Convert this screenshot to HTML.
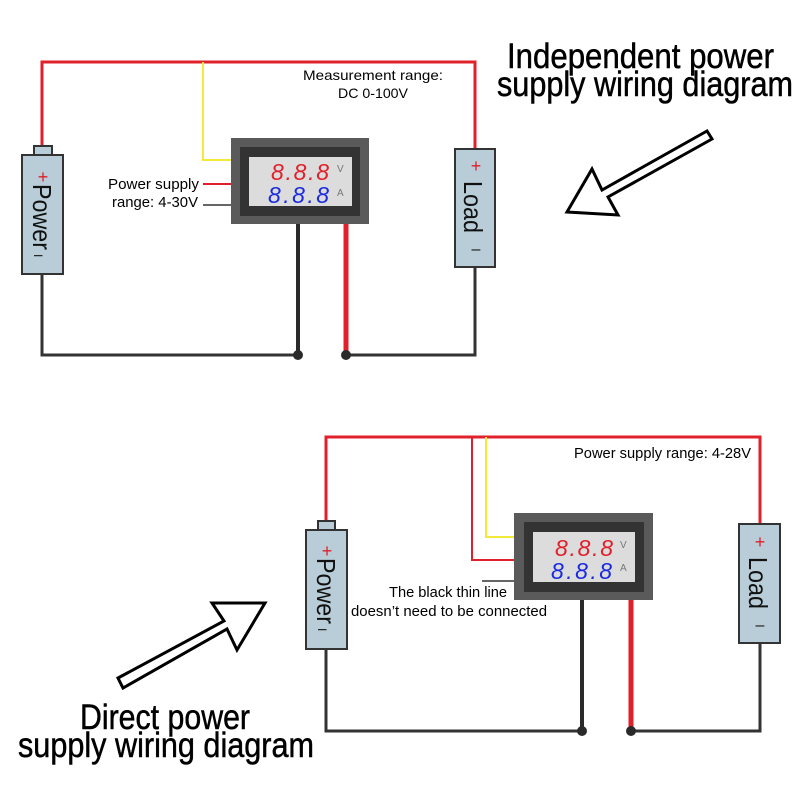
<!DOCTYPE html>
<html><head><meta charset="utf-8"><style>html,body{margin:0;padding:0;background:#fff}svg{display:block}</style></head>
<body>
<svg width="800" height="800" viewBox="0 0 800 800" xmlns="http://www.w3.org/2000/svg" font-family="Liberation Sans, sans-serif">
<g fill="none" stroke-linejoin="miter">
<polyline points="42,155 42,62 475,62 475,149" stroke="#e0202a" stroke-width="3"/>
<polyline points="203,62 203,160 231,160" stroke="#f2ea3a" stroke-width="2"/>
<line x1="203" y1="184" x2="231" y2="184" stroke="#e0202a" stroke-width="2"/>
<line x1="203" y1="205" x2="231" y2="205" stroke="#333" stroke-width="1.5"/>
<polyline points="42,274 42,355 298,355 298,224" stroke="#333" stroke-width="3"/>
<line x1="298" y1="224" x2="298" y2="355" stroke="#2a2a2a" stroke-width="4"/>
<line x1="346" y1="224" x2="346" y2="355" stroke="#e0202a" stroke-width="5"/>
<polyline points="346,355 475,355 475,267" stroke="#333" stroke-width="3"/>
</g>
<circle cx="298" cy="355" r="5" fill="#2a2a2a"/>
<circle cx="346" cy="355" r="5" fill="#2a2a2a"/>
<rect x="34" y="146" width="18" height="10" fill="#b8cdd8" stroke="#333" stroke-width="2"/>
<rect x="22" y="155" width="41" height="119" fill="#b8cdd8" stroke="#333" stroke-width="2"/>
<text x="43" y="183" fill="#e0202a" font-size="18" text-anchor="middle">+</text>
<text transform="translate(33,184) rotate(90)" font-size="26" fill="#111" textLength="66" lengthAdjust="spacingAndGlyphs">Power</text>
<text transform="translate(34,254) rotate(90)" font-size="12" fill="#111">I</text>
<rect x="455" y="149" width="40" height="118" fill="#b8cdd8" stroke="#333" stroke-width="2"/>
<text x="476" y="172" fill="#e0202a" font-size="18" text-anchor="middle">+</text>
<text transform="translate(464,181) rotate(90)" font-size="26" fill="#111" textLength="52" lengthAdjust="spacingAndGlyphs">Load</text>
<text x="476" y="254" font-size="16" text-anchor="middle" fill="#111">–</text>
<rect x="231" y="138" width="138" height="86" fill="#5a5a5a"/>
<rect x="240" y="147" width="120" height="69" fill="#333"/>
<rect x="249" y="157" width="103" height="49" fill="#dcdcdc"/>
<text x="271" y="180" font-size="23" font-style="italic" fill="#e0202a" textLength="58" lengthAdjust="spacing">8.8.8</text>
<text x="268" y="203" font-size="23" font-style="italic" fill="#1a2ae0" textLength="61" lengthAdjust="spacing">8.8.8</text>
<text x="337" y="172" font-size="10" fill="#777">V</text>
<text x="337" y="196" font-size="10" fill="#777">A</text>
<text x="373" y="80" font-size="14" text-anchor="middle" textLength="140" lengthAdjust="spacingAndGlyphs">Measurement range:</text>
<text x="373" y="98" font-size="14" text-anchor="middle" textLength="70" lengthAdjust="spacingAndGlyphs">DC 0-100V</text>
<text x="199" y="189" font-size="15" text-anchor="end" textLength="91" lengthAdjust="spacingAndGlyphs">Power supply</text>
<text x="198" y="207" font-size="15" text-anchor="end" textLength="86" lengthAdjust="spacingAndGlyphs">range: 4-30V</text>
<polygon points="707,131 602,190 592,169 567,212 618,215 608,197 712,139" fill="#fff" stroke="#000" stroke-width="3"/>
<g stroke="#000" stroke-width="0.5">
<text x="507" y="68" font-size="35" textLength="267" lengthAdjust="spacingAndGlyphs">Independent power</text>
<text x="497" y="96" font-size="35" textLength="296" lengthAdjust="spacingAndGlyphs">supply wiring diagram</text>
</g>

<g fill="none">
<polyline points="326,521 326,437 760,437 760,524" stroke="#e0202a" stroke-width="3"/>
<polyline points="472,437 472,560 514,560" stroke="#e0202a" stroke-width="2"/>
<polyline points="486,437 486,537 514,537" stroke="#f2ea3a" stroke-width="2"/>
<line x1="482" y1="581" x2="514" y2="581" stroke="#333" stroke-width="1.5"/>
<polyline points="326,649 326,731 582,731" stroke="#333" stroke-width="3"/>
<line x1="582" y1="600" x2="582" y2="731" stroke="#2a2a2a" stroke-width="4"/>
<line x1="631" y1="600" x2="631" y2="731" stroke="#e0202a" stroke-width="5"/>
<polyline points="631,731 760,731 760,643" stroke="#333" stroke-width="3"/>
</g>
<circle cx="582" cy="731" r="5" fill="#2a2a2a"/>
<circle cx="631" cy="731" r="5" fill="#2a2a2a"/>
<rect x="318" y="521" width="17" height="10" fill="#b8cdd8" stroke="#333" stroke-width="2"/>
<rect x="306" y="530" width="41" height="119" fill="#b8cdd8" stroke="#333" stroke-width="2"/>
<text x="327" y="557" fill="#e0202a" font-size="18" text-anchor="middle">+</text>
<text transform="translate(317,558) rotate(90)" font-size="26" fill="#111" textLength="66" lengthAdjust="spacingAndGlyphs">Power</text>
<text transform="translate(318,628) rotate(90)" font-size="12" fill="#111">I</text>
<rect x="739" y="524" width="41" height="119" fill="#b8cdd8" stroke="#333" stroke-width="2"/>
<text x="760" y="548" fill="#e0202a" font-size="18" text-anchor="middle">+</text>
<text transform="translate(749,557) rotate(90)" font-size="26" fill="#111" textLength="52" lengthAdjust="spacingAndGlyphs">Load</text>
<text x="760" y="630" font-size="16" text-anchor="middle" fill="#111">–</text>
<rect x="514" y="513" width="139" height="87" fill="#5a5a5a"/>
<rect x="524" y="522" width="120" height="70" fill="#333"/>
<rect x="533" y="532" width="102" height="50" fill="#dcdcdc"/>
<text x="555" y="556" font-size="23" font-style="italic" fill="#e0202a" textLength="58" lengthAdjust="spacing">8.8.8</text>
<text x="551" y="579" font-size="23" font-style="italic" fill="#1a2ae0" textLength="61" lengthAdjust="spacing">8.8.8</text>
<text x="620" y="548" font-size="10" fill="#777">V</text>
<text x="620" y="571" font-size="10" fill="#777">A</text>
<text x="574" y="458" font-size="15" textLength="177" lengthAdjust="spacingAndGlyphs">Power supply range: 4-28V</text>
<text x="389" y="597" font-size="15" textLength="118" lengthAdjust="spacingAndGlyphs">The black thin line</text>
<text x="351" y="616" font-size="15" textLength="196" lengthAdjust="spacingAndGlyphs">doesn’t need to be connected</text>
<polygon points="118,678 224,621 212,603 265,603 237,650 227,629 123,688" fill="#fff" stroke="#000" stroke-width="3"/>
<g stroke="#000" stroke-width="0.5">
<text x="80" y="729" font-size="35" textLength="170" lengthAdjust="spacingAndGlyphs">Direct power</text>
<text x="18" y="757" font-size="35" textLength="296" lengthAdjust="spacingAndGlyphs">supply wiring diagram</text>
</g>
</svg>
</body></html>
